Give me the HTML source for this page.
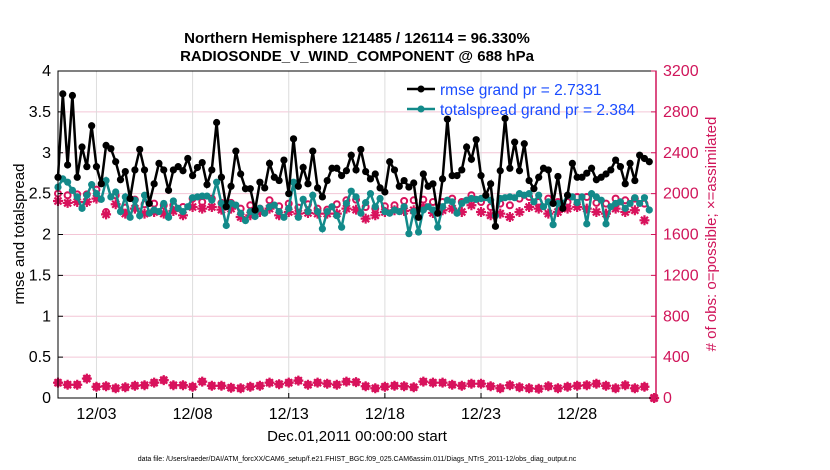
<!DOCTYPE html>
<html><head><meta charset="utf-8"><style>
body{margin:0;background:#fff}
svg{display:block;font-family:"Liberation Sans",sans-serif}
</style></head><body>
<svg id="chart" width="830" height="470">
<g id="grid"></g>
<g id="plot"></g>
<g id="axes"></g>
<text x="357" y="43" text-anchor="middle" font-size="15" font-weight="bold">Northern Hemisphere 121485 / 126114 = 96.330%</text>
<text x="357" y="61" text-anchor="middle" font-size="15" font-weight="bold">RADIOSONDE_V_WIND_COMPONENT @ 688 hPa</text>
<text transform="translate(24,234) rotate(-90)" text-anchor="middle" font-size="15">rmse and totalspread</text>
<text transform="translate(716,234) rotate(-90)" text-anchor="middle" font-size="15" fill="#d0155a"># of obs: o=possible; ×=assimilated</text>
<text x="357" y="441" text-anchor="middle" font-size="15">Dec.01,2011 00:00:00 start</text>
<text x="357" y="461" text-anchor="middle" font-size="7">data file: /Users/raeder/DAI/ATM_forcXX/CAM6_setup/f.e21.FHIST_BGC.f09_025.CAM6assim.011/Diags_NTrS_2011-12/obs_diag_output.nc</text>
<g>
<line x1="407" y1="89" x2="435" y2="89" stroke="#000" stroke-width="2.5"/>
<circle cx="421" cy="89" r="3.5" fill="#000"/>
<text x="440" y="95" font-size="15.5" fill="#1a4cff">rmse grand pr = 2.7331</text>
<line x1="407" y1="109" x2="435" y2="109" stroke="#138a8a" stroke-width="2.5"/>
<circle cx="421" cy="109" r="3.5" fill="#138a8a"/>
<text x="440" y="115" font-size="15.5" fill="#1a4cff">totalspread grand pr = 2.384</text>
</g>
</svg>
<script>
const xTickLabels=["12/03","12/08","12/13","12/18","12/23","12/28"];
const xTickDays=[2,7,12,17,22,27];
const leftTicks=[0,0.5,1,1.5,2,2.5,3,3.5,4];
const rightTicks=[0,400,800,1200,1600,2000,2400,2800,3200];
const rmse=[2.70,3.72,2.85,3.70,2.70,3.07,2.83,3.33,2.83,2.62,3.09,3.05,2.89,2.67,2.77,2.44,2.79,3.04,2.79,2.38,2.62,2.87,2.79,2.54,2.79,2.83,2.78,2.93,2.72,2.82,2.88,2.61,2.79,3.37,2.70,2.34,2.59,3.02,2.74,2.56,
2.56,2.30,2.64,2.57,2.87,2.70,2.66,2.91,2.50,3.17,2.59,2.82,2.62,3.02,2.57,2.46,2.66,2.81,2.81,2.72,2.78,2.97,2.79,3.04,2.77,2.68,2.74,2.57,2.52,2.89,2.79,2.59,2.66,2.58,2.63,2.21,2.74,2.59,2.62,2.26,
2.68,3.41,2.72,2.72,2.79,3.07,2.92,3.16,2.72,2.48,2.62,2.10,2.78,3.42,2.81,3.13,2.78,3.11,2.66,2.56,2.70,2.81,2.79,2.38,2.71,2.32,2.48,2.87,2.70,2.70,2.75,2.81,2.67,2.70,2.74,2.79,2.91,2.83,2.62,2.87,2.66,2.97,2.93,2.89];
const spread=[2.58,2.68,2.64,2.54,2.46,2.32,2.48,2.61,2.50,2.43,2.66,2.46,2.52,2.28,2.46,2.21,2.42,2.23,2.48,2.26,2.30,2.28,2.38,2.21,2.41,2.32,2.28,2.34,2.45,2.46,2.47,2.47,2.42,2.64,2.38,2.11,2.38,2.36,2.26,2.17,
2.28,2.22,2.32,2.26,2.34,2.36,2.28,2.21,2.32,2.64,2.21,2.43,2.28,2.48,2.28,2.07,2.28,2.34,2.23,2.09,2.38,2.53,2.46,2.26,2.39,2.50,2.34,2.44,2.28,2.26,2.30,2.28,2.34,2.01,2.28,2.03,2.30,2.34,2.30,2.09,
2.34,2.42,2.40,2.26,2.38,2.42,2.44,2.43,2.44,2.45,2.42,2.23,2.44,2.45,2.46,2.45,2.50,2.48,2.50,2.40,2.48,2.34,2.40,2.12,2.38,2.38,2.48,2.46,2.39,2.46,2.13,2.50,2.46,2.42,2.13,2.34,2.38,2.40,2.32,2.38,2.45,2.38,2.45,2.30];
const obsPossible=[2000,1984,1993,1993,2039,1820,1984,1863,1941,1896,1902,1886,1886,1869,1951,1918,1951,1909,1909,1853,
1886,1853,1935,1876,1902,1863,1896,1853,1843,1896,1935,1941,1869,1853,1876,1886,1928,1935,1941,1918,
1918,1951,1918,1984,1918,1869,1902,1886,1951,1967,1918,1951,1918,1918,1967,1967,1909,1902,1951,1935,1951,1902,0];
const obsUsed=[1928,1909,1918,1918,1951,1797,1896,1804,1853,1804,1820,1804,1830,1788,1869,1853,1869,1843,1853,1771,
1788,1820,1853,1788,1820,1804,1811,1804,1804,1804,1853,1843,1755,1788,1820,1837,1830,1837,1869,1811,
1837,1853,1820,1886,1820,1788,1804,1771,1820,1869,1853,1804,1820,1853,1869,1853,1820,1804,1853,1820,1837,1739,0];
const obsLevel2=[150,130,130,190,110,115,95,105,120,125,150,175,125,125,110,160,120,120,100,95,110,120,150,135,150,170,130,150,140,130,160,155,115,95,110,120,115,105,160,150,150,130,120,140,140,115,95,125,105,95,90,115,95,110,120,125,140,120,95,125,95,110,0];

const NS='http://www.w3.org/2000/svg';
const L=58,R=656,T=71,B=398,DAYS=31.1;
const xs=d=>L+(d/DAYS)*(R-L);
const yl=v=>B-(v/4)*(B-T);
const yr=v=>B-(v/3200)*(B-T);
function mk(tag,attrs,parent){const e=document.createElementNS(NS,tag);for(const k in attrs)e.setAttribute(k,attrs[k]);parent.appendChild(e);return e;}
const grid=document.getElementById('grid'),plot=document.getElementById('plot'),axes=document.getElementById('axes');
rightTicks.forEach(v=>{const g=mk('line',{x1:L,x2:R,y1:yr(v),y2:yr(v),stroke:'#f3c6d6','stroke-width':1},grid);

});
xTickDays.forEach((d,i)=>{const g=mk('line',{x1:xs(d),x2:xs(d),y1:T,y2:B,stroke:'#dcdcdc','stroke-width':1},grid);


const t=mk('text',{x:xs(d),y:419,'text-anchor':'middle','font-size':16},axes);t.textContent=xTickLabels[i];


mk('line',{x1:xs(d),x2:xs(d),y1:B,y2:B-5,stroke:'#000'},axes);});
mk('rect',{x:L,y:T,width:R-L,height:B-T,fill:'none',stroke:'#000','stroke-width':1},axes);
mk('line',{x1:R,x2:R,y1:T,y2:B,stroke:'#d0155a','stroke-width':1.5},axes);
leftTicks.forEach(v=>{const t=mk('text',{x:51,y:yl(v)+5,'text-anchor':'end','font-size':16},axes);t.textContent=String(v);


mk('line',{x1:L,x2:L+5,y1:yl(v),y2:yl(v),stroke:'#000'},axes);});
rightTicks.forEach(v=>{const t=mk('text',{x:663,y:yr(v)+5,'font-size':16,fill:'#d0155a'},axes);t.textContent=String(v);


mk('line',{x1:R-5,x2:R,y1:yr(v),y2:yr(v),stroke:'#d0155a'},axes);});
function line(vals,step,color,name){
 const pts=vals.map((v,i)=>xs(i*step).toFixed(1)+','+yl(v).toFixed(1)).join(' ');
 const p=mk('polyline',{points:pts,fill:'none',stroke:color,'stroke-width':2.5},plot);
 
 
 vals.forEach((v,i)=>{const c=mk('circle',{cx:xs(i*step),cy:yl(v),r:3.6,fill:color},plot);
 
 });
}
const mag='#d8125c';
function ring(vals,name){vals.forEach((v,i)=>{const c=mk('circle',{cx:xs(i*0.5),cy:yr(v),r:3,fill:'none',stroke:mag,'stroke-width':2},plot);

});}
function star(vals,name){vals.forEach((v,i)=>{const x=xs(i*0.5),y=yr(v);
const d=`M${x-5},${y}H${x+5}M${x},${y-5}V${y+5}M${x-3.5},${y-3.5}L${x+3.5},${y+3.5}M${x-3.5},${y+3.5}L${x+3.5},${y-3.5}`;
const p=mk('path',{d:d,stroke:mag,'stroke-width':2.2,fill:'none'},plot);

});}
star(obsUsed,'obs-assimilated-marker');
ring(obsPossible,'obs-possible-marker');
line(spread,0.25,'#138a8a','totalspread');
line(rmse,0.25,'#000','rmse');
star(obsLevel2,'obs-bottom-assimilated-marker');
ring(obsLevel2,'obs-bottom-possible-marker');
</script>
</body></html>
